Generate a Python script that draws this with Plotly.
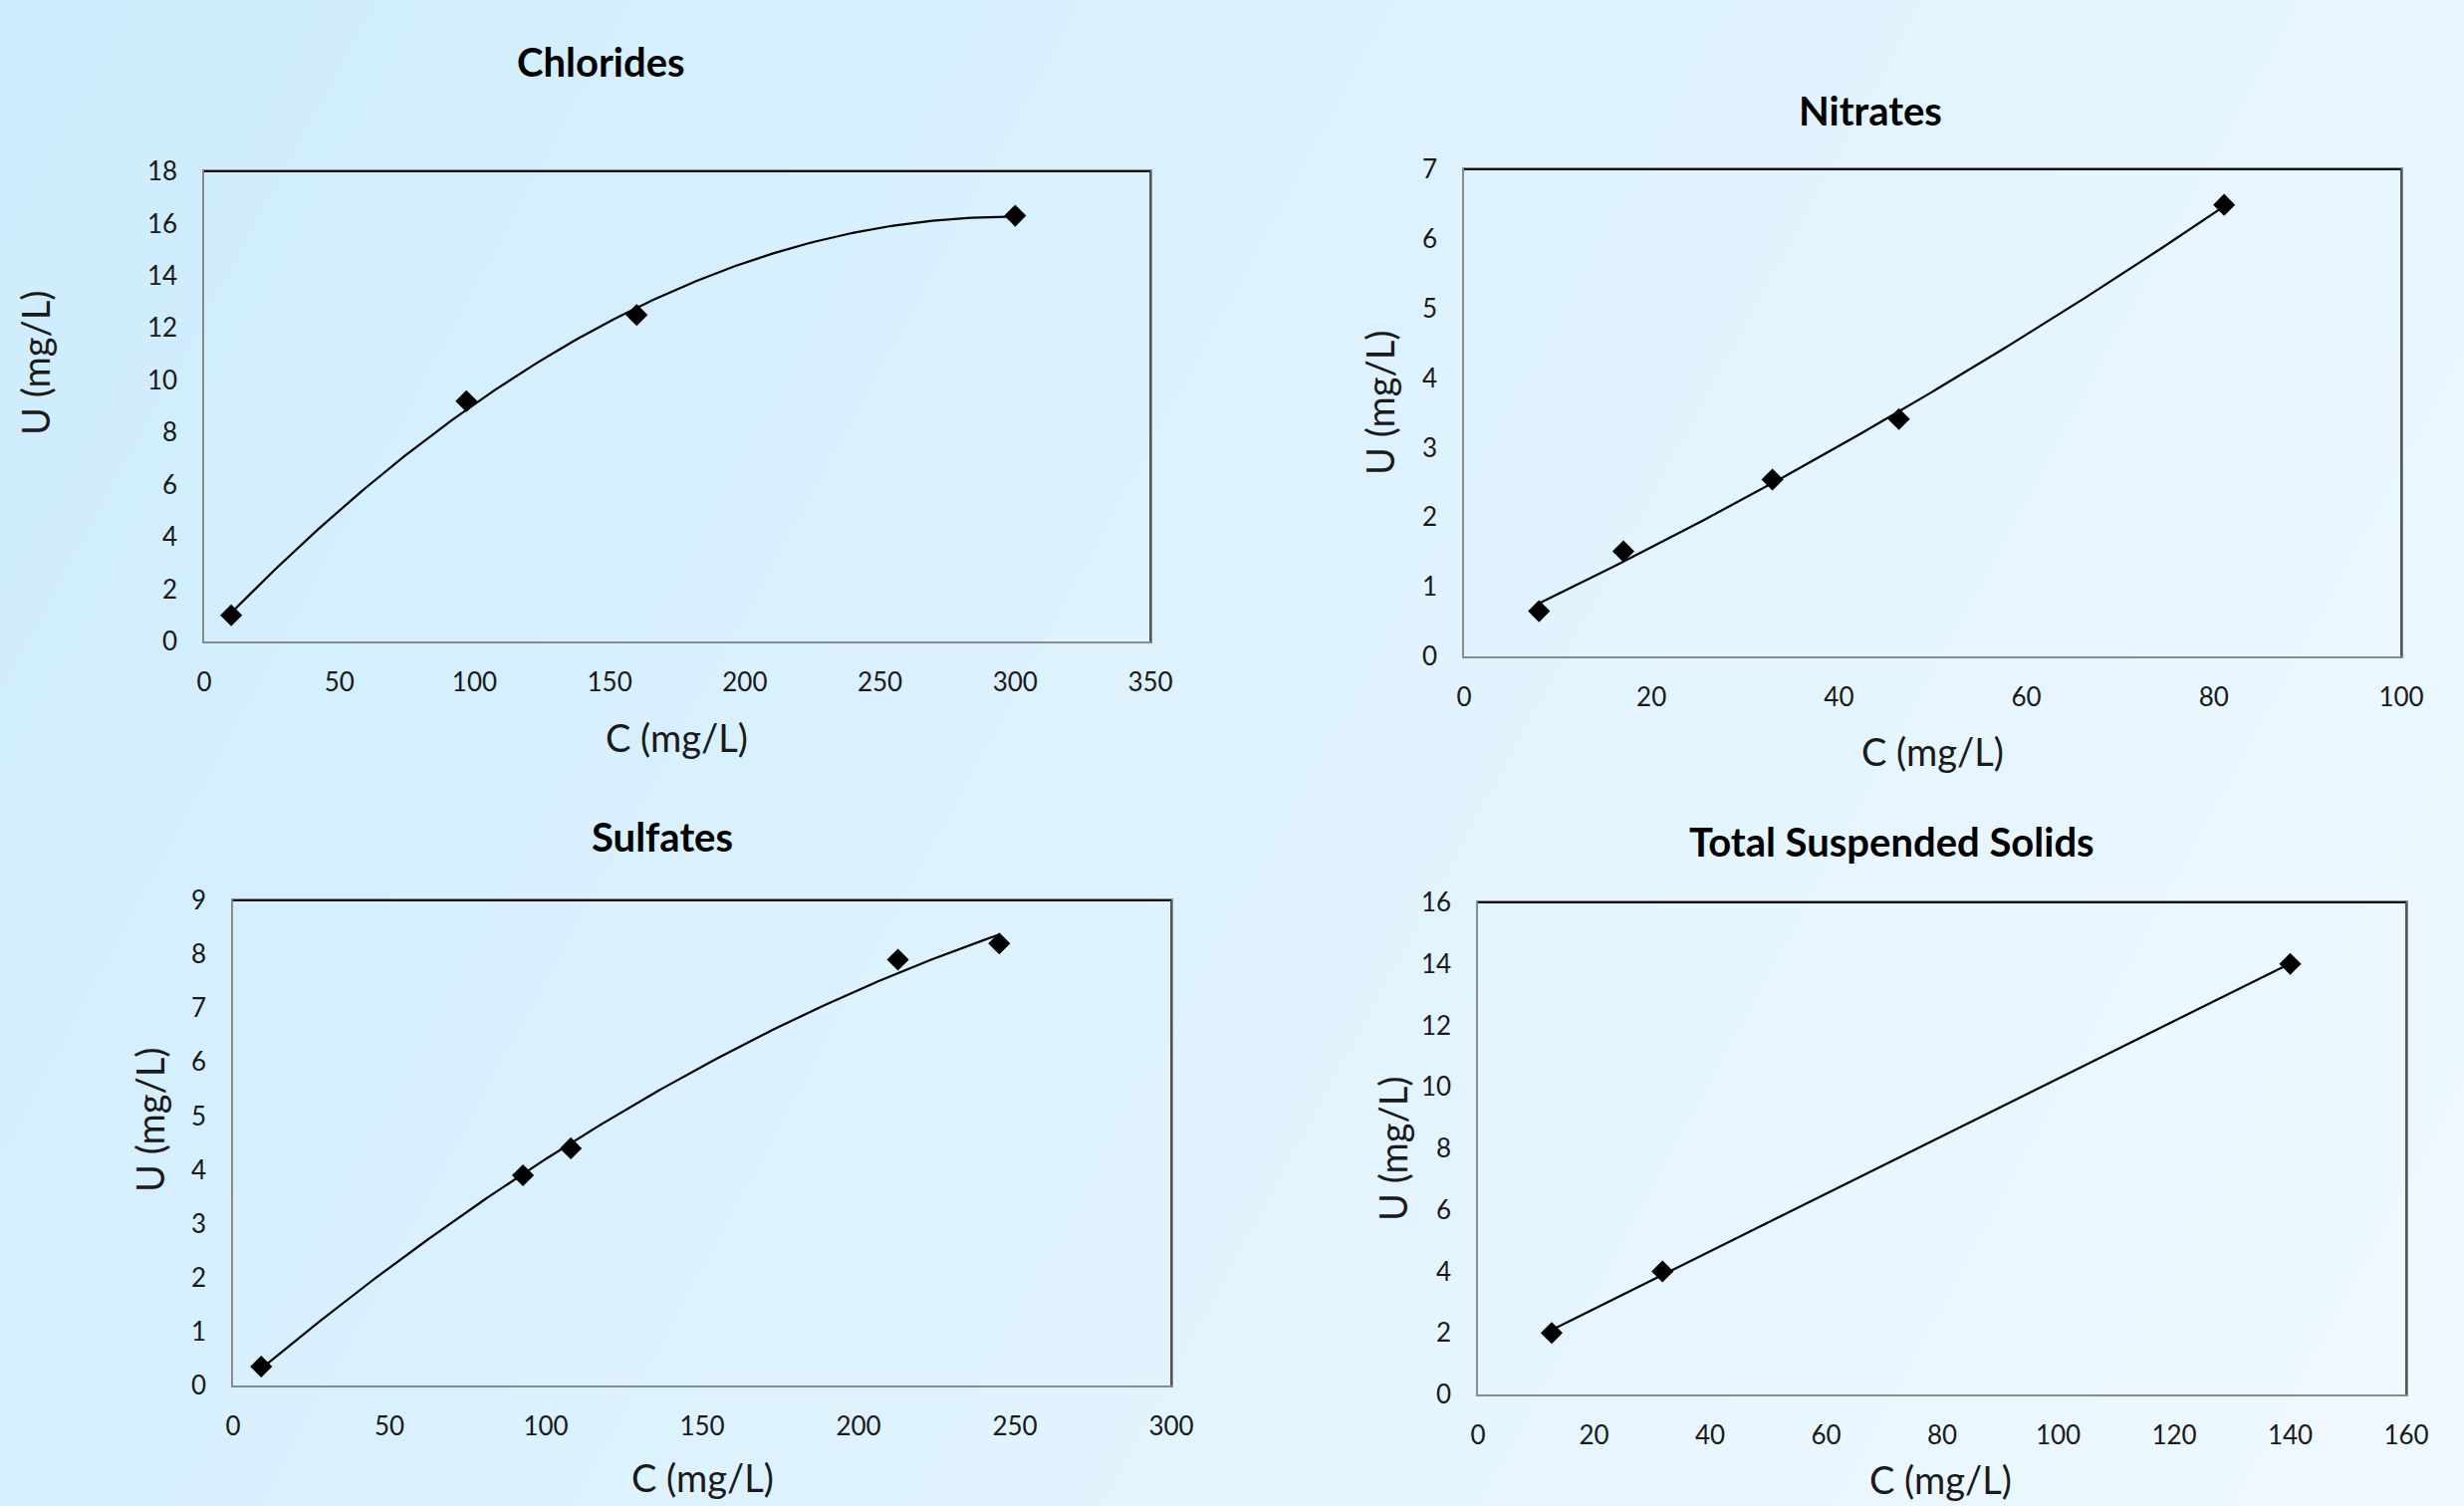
import numpy as np
import plotly.graph_objects as go

W, H = 2474, 1512

# ---- data ----
chl_c = [10, 97, 160, 300]
chl_u = [1.0, 9.2, 12.5, 16.3]

nit_c = [8.0, 17.0, 32.9, 46.4, 81.1]
nit_u = [0.65, 1.51, 2.54, 3.41, 6.49]

sul_c = [9.0, 92.7, 108.0, 212.6, 245.0]
sul_u = [0.35, 3.9, 4.4, 7.9, 8.2]

tss_c = [12.7, 31.8, 140.0]
tss_u = [2.0, 4.0, 14.0]

titles = ["Chlorides", "Nitrates", "Sulfates", "Total Suspended Solids"]
x_title = "C (mg/L)"
y_title = "U (mg/L)"

# panel layout in pixels: (left, right, top, bottom)
boxes = [(205, 1155, 172, 644), (1470, 2411, 170, 659),
         (234, 1176, 904, 1391), (1484, 2416, 906, 1400)]
xranges = [(0, 350, 50), (0, 100, 20), (0, 300, 50), (0, 160, 20)]
yranges = [(0, 18, 2), (0, 7, 1), (0, 9, 1), (0, 16, 2)]
title_pos = [(603, 62), (1878, 111), (665, 840), (1900, 845)]
xt_pos = [(679, 740), (1940, 754), (705, 1483), (1949, 1485)]
yt_pos = [(35, 365), (1385, 405), (150, 1125), (1398, 1154)]
degrees = [2, 2, 2, 1]
series = [(chl_c, chl_u), (nit_c, nit_u), (sul_c, sul_u), (tss_c, tss_u)]

FONT = "Lato"
fig = go.Figure()

# background gradient (decoration) on the first axis pair; y axis runs top->bottom
fig.add_trace(go.Heatmap(
    x=[0, 0.5, 1], y=[0, 0.5, 1],
    z=[[0.0, 0.375, 0.75], [0.125, 0.5, 0.875], [0.25, 0.625, 1.0]],
    zmin=0, zmax=1, zsmooth="best", showscale=False, hoverinfo="skip",
    colorscale=[[0, "#cdecfd"], [1, "#f0f9fe"]],
    xaxis="x", yaxis="y"))
fig.update_layout(
    xaxis=dict(domain=[0, 1], range=[0, 1], visible=False, fixedrange=True,
               automargin=False),
    yaxis=dict(domain=[0, 1], range=[1, 0], visible=False, fixedrange=True,
               automargin=False))

annotations = []
shapes = []
for i, ((cx, uy), box) in enumerate(zip(series, boxes)):
    n = i + 2
    xa, ya = f"x{n}", f"y{n}"
    l, r, t, b = box
    coef = np.polyfit(cx, uy, degrees[i])
    xs = np.linspace(min(cx), max(cx), 200)
    fig.add_trace(go.Scatter(x=xs, y=np.polyval(coef, xs), mode="lines",
                             line=dict(color="black", width=2.2),
                             xaxis=xa, yaxis=ya, hoverinfo="skip"))
    fig.add_trace(go.Scatter(x=cx, y=uy, mode="markers",
                             marker=dict(symbol="diamond", size=17, color="black"),
                             xaxis=xa, yaxis=ya))
    x0, x1, dx = xranges[i]
    y0, y1, dy = yranges[i]
    axcommon = dict(showgrid=False, zeroline=False, showline=True, mirror=True,
                    linecolor="#8a8a8a", linewidth=1.5, ticks="",
                    tickfont=dict(family=FONT, size=26, color="#1a1a1a"),
                    fixedrange=True, automargin=False)
    fig.layout[f"xaxis{n}"] = dict(domain=[l / W, r / W], range=[x0, x1], dtick=dx,
                                   tick0=0, anchor=ya, ticklabelstandoff=17, **axcommon)
    fig.layout[f"yaxis{n}"] = dict(domain=[1 - b / H, 1 - t / H], range=[y0, y1], dtick=dy,
                                   tick0=0, anchor=xa, ticklabelstandoff=20, **axcommon)
    # dark top edge and right edge
    shapes.append(dict(type="line", xref=f"{xa} domain", yref=f"{ya} domain",
                       x0=0, x1=1, y0=1, y1=1, line=dict(color="#111111", width=2)))
    shapes.append(dict(type="line", xref=f"{xa} domain", yref=f"{ya} domain",
                       x0=1, x1=1, y0=0, y1=1, line=dict(color="#555555", width=2)))
    tx, ty = title_pos[i]
    annotations.append(dict(text=f"<b>{titles[i]}</b>", x=tx / W, y=1 - ty / H,
                            xref="paper", yref="paper", showarrow=False,
                            xanchor="center", yanchor="middle",
                            font=dict(family=FONT, size=40, color="black")))
    px, py = xt_pos[i]
    annotations.append(dict(text=x_title, x=px / W, y=1 - py / H,
                            xref="paper", yref="paper", showarrow=False,
                            xanchor="center", yanchor="middle",
                            font=dict(family=FONT, size=38, color="#1a1a1a")))
    qx, qy = yt_pos[i]
    annotations.append(dict(text=y_title, x=qx / W, y=1 - qy / H, textangle=-90,
                            xref="paper", yref="paper", showarrow=False,
                            xanchor="center", yanchor="middle",
                            font=dict(family=FONT, size=38, color="#1a1a1a")))

fig.update_layout(autosize=True,
                  margin=dict(l=0, r=0, t=0, b=0, pad=0, autoexpand=False),
                  paper_bgcolor="#dff3fd", plot_bgcolor="rgba(0,0,0,0)",
                  showlegend=False, annotations=annotations, shapes=shapes)

fig.write_html(
    "out.html",
    default_width="100vw; position:fixed; left:0; top:0",
    default_height="100vh",
    config={"displayModeBar": False},
    post_script="document.body.style.margin='0';document.body.style.overflow='hidden';",
)
